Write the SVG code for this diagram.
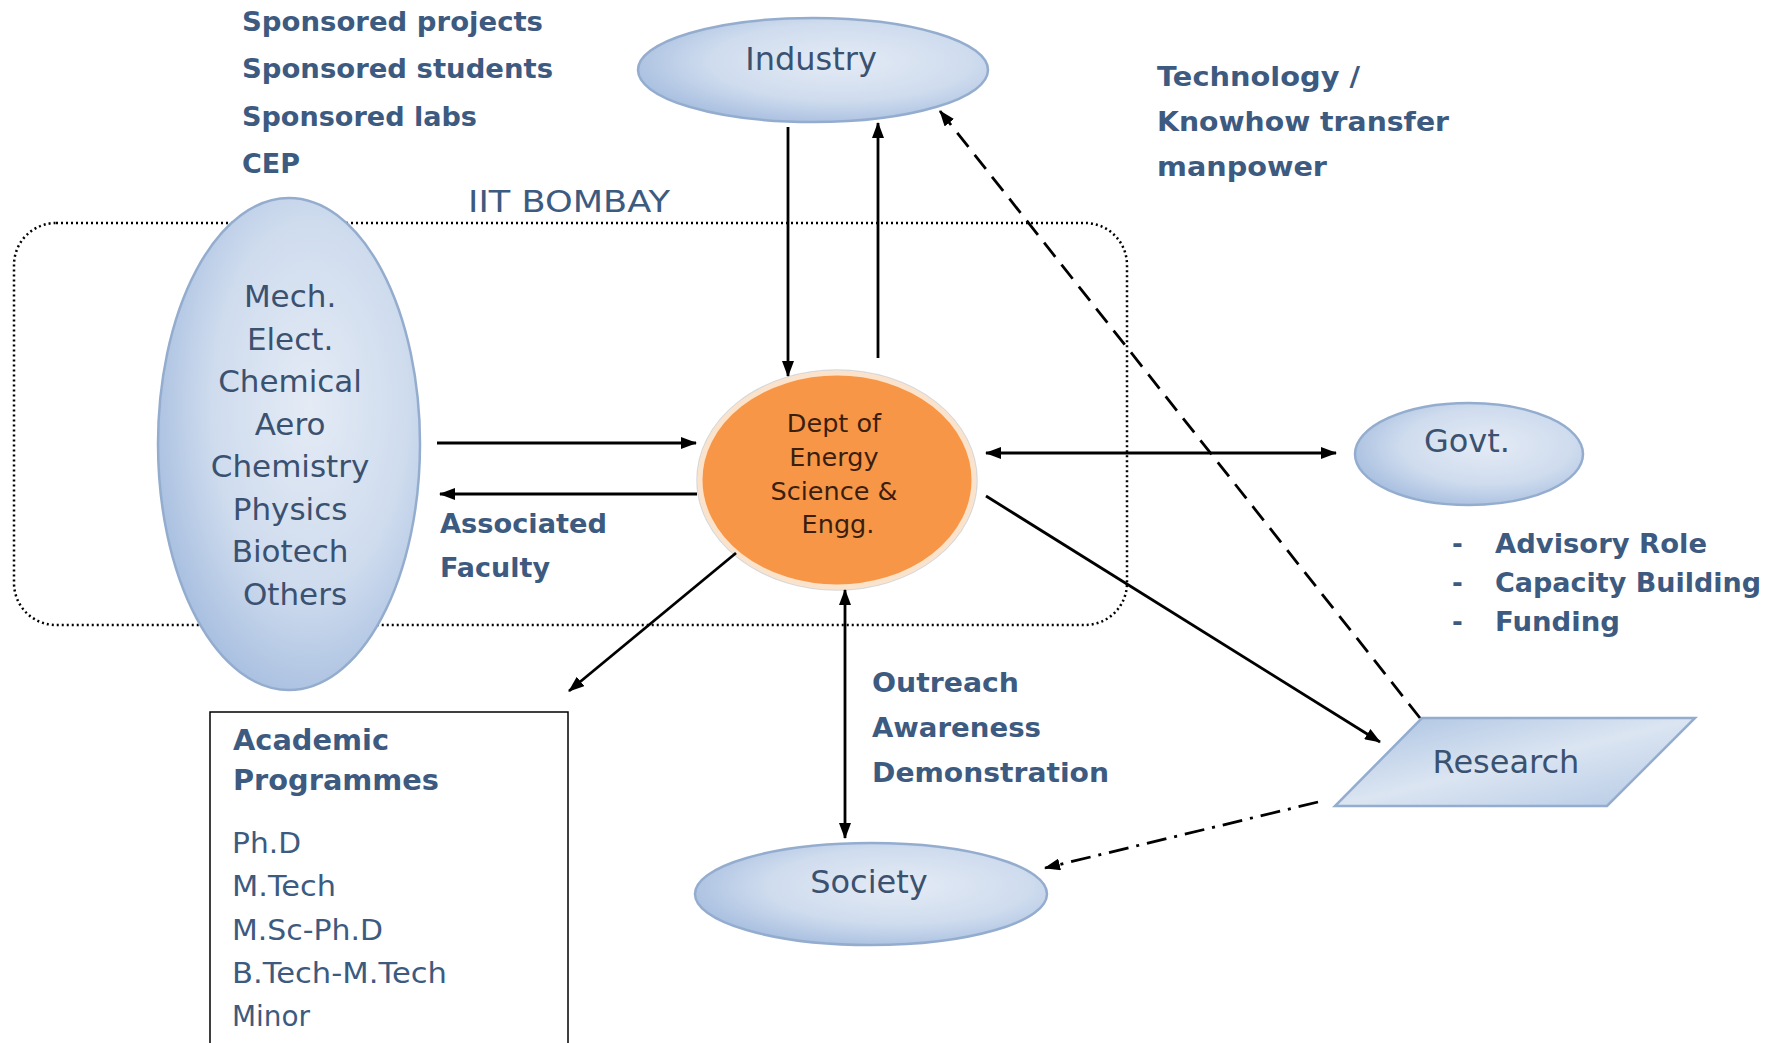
<svg xmlns="http://www.w3.org/2000/svg" width="1781" height="1043" viewBox="0 0 1781 1043">
  <defs>
    <radialGradient id="blueFill" cx="58%" cy="42%" r="62%">
      <stop offset="0" stop-color="#e4ebf5"/>
      <stop offset="0.6" stop-color="#cfdcee"/>
      <stop offset="1" stop-color="#a8bfe0"/>
    </radialGradient>
    <linearGradient id="paraFill" x1="0" y1="0" x2="1" y2="1">
      <stop offset="0" stop-color="#a9c1e1"/>
      <stop offset="0.5" stop-color="#dbe5f2"/>
      <stop offset="1" stop-color="#b3c8e4"/>
    </linearGradient>
    <marker id="arrow" viewBox="0 0 16 12" refX="15" refY="6" markerWidth="16" markerHeight="12" markerUnits="userSpaceOnUse" orient="auto-start-reverse">
      <path d="M0,0 L16,6 L0,12 Z" fill="#000"/>
    </marker>
    <style>
      .blob { fill: url(#blueFill); stroke: #94adcf; stroke-width: 2.5; }
      .node { font-family: "DejaVu Sans", Verdana, sans-serif; fill: #3b5170; text-anchor: middle; }
      .note { font-family: "DejaVu Sans", Verdana, sans-serif; font-weight: bold; fill: #3d5a80; }
      .plain { font-family: "DejaVu Sans", Verdana, sans-serif; fill: #3d5a80; }
      .link { stroke: #000; stroke-width: 2.8; fill: none; }
    </style>
  </defs>

  <rect width="1781" height="1043" fill="#ffffff"/>

  <!-- Institute boundary -->
  <g id="iit-bombay">
    <rect x="14" y="223" width="1113" height="402" rx="42" ry="42" fill="none" stroke="#000" stroke-width="2.5" stroke-dasharray="2 3"/>
    <text class="plain" x="468" y="212" font-size="30" textLength="202" lengthAdjust="spacingAndGlyphs">IIT BOMBAY</text>
  </g>

  <!-- Partner departments -->
  <g id="departments">
    <ellipse class="blob" cx="289" cy="444" rx="131" ry="246"/>
    <text class="node" font-size="31">
      <tspan x="295" y="307">Mech.</tspan>
      <tspan x="295" y="350">Elect.</tspan>
      <tspan x="295" y="392">Chemical</tspan>
      <tspan x="295" y="435">Aero</tspan>
      <tspan x="295" y="477">Chemistry</tspan>
      <tspan x="295" y="520">Physics</tspan>
      <tspan x="295" y="562">Biotech</tspan>
      <tspan x="295" y="605">Others</tspan>
    </text>
  </g>

  <!-- Industry -->
  <g id="industry">
    <ellipse class="blob" cx="813" cy="70" rx="175" ry="52"/>
    <text class="node" x="811" y="70" font-size="32">Industry</text>
  </g>

  <!-- Government -->
  <g id="govt">
    <ellipse class="blob" cx="1469" cy="454" rx="114" ry="51"/>
    <text class="node" x="1467" y="452" font-size="32">Govt.</text>
  </g>

  <!-- Society -->
  <g id="society">
    <ellipse class="blob" cx="871" cy="894" rx="176" ry="51"/>
    <text class="node" x="869" y="893" font-size="32">Society</text>
  </g>

  <!-- Research -->
  <g id="research">
    <polygon points="1422,718 1695,718 1607,806 1335,806" fill="url(#paraFill)" stroke="#94adcf" stroke-width="2.5"/>
    <text class="node" x="1506" y="773" font-size="32">Research</text>
  </g>

  <!-- Department of Energy Science & Engineering -->
  <g id="dese">
    <ellipse cx="837" cy="480" rx="140" ry="110" fill="none" stroke="#d8d8d8" stroke-width="1.5"/>
    <ellipse cx="837" cy="480" rx="137" ry="107" fill="#f79646" stroke="#fbe2cb" stroke-width="5"/>
    <text class="node" font-size="25.5" style="fill:#3a1e10">
      <tspan x="838" y="432">Dept of</tspan>
      <tspan x="838" y="466">Energy</tspan>
      <tspan x="838" y="500">Science &amp;</tspan>
      <tspan x="838" y="533">Engg.</tspan>
    </text>
  </g>

  <!-- Academic programmes -->
  <g id="academic">
    <rect x="210" y="712" width="358" height="345" fill="#ffffff" stroke="#000" stroke-width="1.5"/>
    <text class="note" font-size="28" x="233" y="750" textLength="156" lengthAdjust="spacingAndGlyphs">Academic</text>
    <text class="note" font-size="28" x="233" y="790" textLength="206" lengthAdjust="spacingAndGlyphs">Programmes</text>
    <text class="plain" font-size="28" x="232" y="853" textLength="69" lengthAdjust="spacingAndGlyphs">Ph.D</text>
    <text class="plain" font-size="28" x="232" y="896" textLength="104" lengthAdjust="spacingAndGlyphs">M.Tech</text>
    <text class="plain" font-size="28" x="232" y="940" textLength="151" lengthAdjust="spacingAndGlyphs">M.Sc-Ph.D</text>
    <text class="plain" font-size="28" x="232" y="983" textLength="215" lengthAdjust="spacingAndGlyphs">B.Tech-M.Tech</text>
    <text class="plain" font-size="28" x="232" y="1026" textLength="78" lengthAdjust="spacingAndGlyphs">Minor</text>
  </g>

  <!-- Annotations -->
  <g id="industry-notes">
    <text class="note" font-size="27" x="242" y="31" textLength="301" lengthAdjust="spacingAndGlyphs">Sponsored projects</text>
    <text class="note" font-size="27" x="242" y="78" textLength="311" lengthAdjust="spacingAndGlyphs">Sponsored students</text>
    <text class="note" font-size="27" x="242" y="126" textLength="235" lengthAdjust="spacingAndGlyphs">Sponsored labs</text>
    <text class="note" font-size="27" x="242" y="173" textLength="58" lengthAdjust="spacingAndGlyphs">CEP</text>
    <text class="note" font-size="27" x="1157" y="86" textLength="203" lengthAdjust="spacingAndGlyphs">Technology /</text>
    <text class="note" font-size="27" x="1157" y="131" textLength="292" lengthAdjust="spacingAndGlyphs">Knowhow transfer</text>
    <text class="note" font-size="27" x="1157" y="176" textLength="170" lengthAdjust="spacingAndGlyphs">manpower</text>
  </g>
  <g id="faculty-notes">
    <text class="note" font-size="27" x="440" y="533" textLength="167" lengthAdjust="spacingAndGlyphs">Associated</text>
    <text class="note" font-size="27" x="440" y="577" textLength="110" lengthAdjust="spacingAndGlyphs">Faculty</text>
  </g>
  <g id="society-notes">
    <text class="note" font-size="26" x="872" y="692" textLength="147" lengthAdjust="spacingAndGlyphs">Outreach</text>
    <text class="note" font-size="26" x="872" y="737" textLength="169" lengthAdjust="spacingAndGlyphs">Awareness</text>
    <text class="note" font-size="26" x="872" y="782" textLength="237" lengthAdjust="spacingAndGlyphs">Demonstration</text>
  </g>
  <g id="govt-notes">
    <text class="note" font-size="26" x="1452" y="553">-</text>
    <text class="note" font-size="26" x="1495" y="553" textLength="212" lengthAdjust="spacingAndGlyphs">Advisory Role</text>
    <text class="note" font-size="26" x="1452" y="592">-</text>
    <text class="note" font-size="26" x="1495" y="592" textLength="266" lengthAdjust="spacingAndGlyphs">Capacity Building</text>
    <text class="note" font-size="26" x="1452" y="631">-</text>
    <text class="note" font-size="26" x="1495" y="631" textLength="125" lengthAdjust="spacingAndGlyphs">Funding</text>
  </g>

  <!-- Connectors -->
  <g id="connectors">
    <line class="link" x1="788" y1="127" x2="788" y2="376" marker-end="url(#arrow)"/>
    <line class="link" x1="878" y1="358" x2="878" y2="123" marker-end="url(#arrow)"/>
    <line class="link" x1="437" y1="443" x2="696" y2="443" marker-end="url(#arrow)"/>
    <line class="link" x1="697" y1="494" x2="440" y2="494" marker-end="url(#arrow)"/>
    <line class="link" x1="986" y1="453" x2="1336" y2="453" marker-start="url(#arrow)" marker-end="url(#arrow)"/>
    <line class="link" x1="986" y1="496" x2="1380" y2="742" marker-end="url(#arrow)"/>
    <line class="link" x1="736" y1="553" x2="569" y2="691" marker-end="url(#arrow)"/>
    <line class="link" x1="845" y1="590" x2="845" y2="838" marker-start="url(#arrow)" marker-end="url(#arrow)"/>
    <line class="link" x1="1420" y1="718" x2="940" y2="111" stroke-dasharray="18 10" marker-end="url(#arrow)"/>
    <line class="link" x1="1318" y1="802" x2="1045" y2="868" stroke-dasharray="20 8 3 8" marker-end="url(#arrow)"/>
  </g>
</svg>
